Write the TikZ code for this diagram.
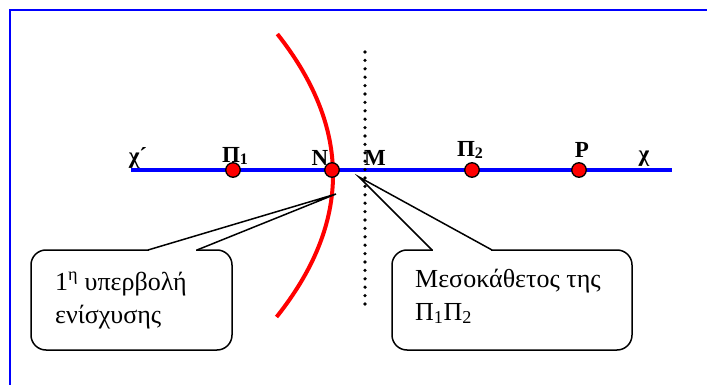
\documentclass[tikz,border=0pt]{standalone}
\usepackage{fontspec}
\setmainfont{Liberation Serif}
\newcommand{\lsub}[1]{\raisebox{-1.5pt}{\fontsize{16}{16}\selectfont #1}}
\begin{document}
\begin{tikzpicture}[x=1pt,y=-1pt,
  lbl/.style={font=\fontsize{23}{23}\selectfont\bfseries, inner sep=0pt, anchor=base},
  ctext/.style={font=\fontsize{26}{33}\selectfont, align=left, inner sep=0pt, anchor=base west},
  cbox/.style={draw=black, line width=1.5pt, fill=white, rounded corners=15pt, inner sep=0pt},
  cline/.style={draw=black, line width=1.5pt},
  ptdot/.style={circle, fill=red, draw=black, line width=1.3pt, minimum size=14.5pt, inner sep=0pt},
  axisline/.style={draw=blue, line width=4pt},
  hyper/.style={draw=red, line width=4pt},
  mediator/.style={line width=3.6pt, line cap=round, dash pattern=on 0pt off 8.4pt},
  frameline/.style={draw=blue, line width=2pt}]
\useasboundingbox (0,0) rectangle (707,385);
\draw[frameline] (708,10) -- (10,10) -- (10,386);
% axis
\coordinate (xl) at (131,170);
\coordinate (xr) at (672,170);
\draw[axisline] (xl) -- (xr);
% hyperbola branch
\draw[hyper] plot[domain=34:317, samples=80, variable=\t] ({333-0.28*((\t-175)/10)^2}, \t);
% callout boxes
\node[cbox, minimum width=201pt, minimum height=100pt] (boxA) at (131.5,300) {};
\node[cbox, minimum width=240pt, minimum height=100pt] (boxB) at (512,300) {};
\coordinate (tipA) at (336,194);
\coordinate (tipB) at (359,177);
\coordinate (a1) at (148,250);
\coordinate (a2) at (197,250);
\coordinate (b1) at (432,250);
\coordinate (b2) at (492,250);
\draw[white, line width=2.5pt] (149,250) -- (196,250);
\draw[white, line width=2.5pt] (433,250) -- (491,250);
\draw[cline, line join=miter] (a1) -- (tipA) -- (a2);
\draw[cline, line join=miter] (b1) -- (tipB) -- (b2);
\node[ctext] (tA) at (55,323) {1\textsuperscript{η} υπερβολή\\ενίσχυσης};
\node[ctext] (tB) at (415,320) {Μεσοκάθετος της\\Π\textsubscript{1}Π\textsubscript{2}};
% perpendicular bisector
\coordinate (mt) at (365,52);
\coordinate (mb) at (365,304);
\draw[mediator] (mt) -- (mb);
% points
\node[ptdot] (P1) at (233,170) {};
\node[ptdot] (N) at (332,170) {};
\node[ptdot] (P2) at (472,170) {};
\node[ptdot] (P) at (579,170) {};
% labels
\node[lbl] (lxp) at (138,164) {χ´};
\node[lbl] (lP1) at (235,163) {Π\lsub{1}};
\node[lbl] (lN) at (320,165) {N};
\node[lbl] (lM) at (375,165) {M};
\node[lbl] (lP2) at (470,157) {Π\lsub{2}};
\node[lbl] (lP) at (582,158) {P};
\node[lbl] (lx) at (644,161) {χ};
\end{tikzpicture}
\end{document}
